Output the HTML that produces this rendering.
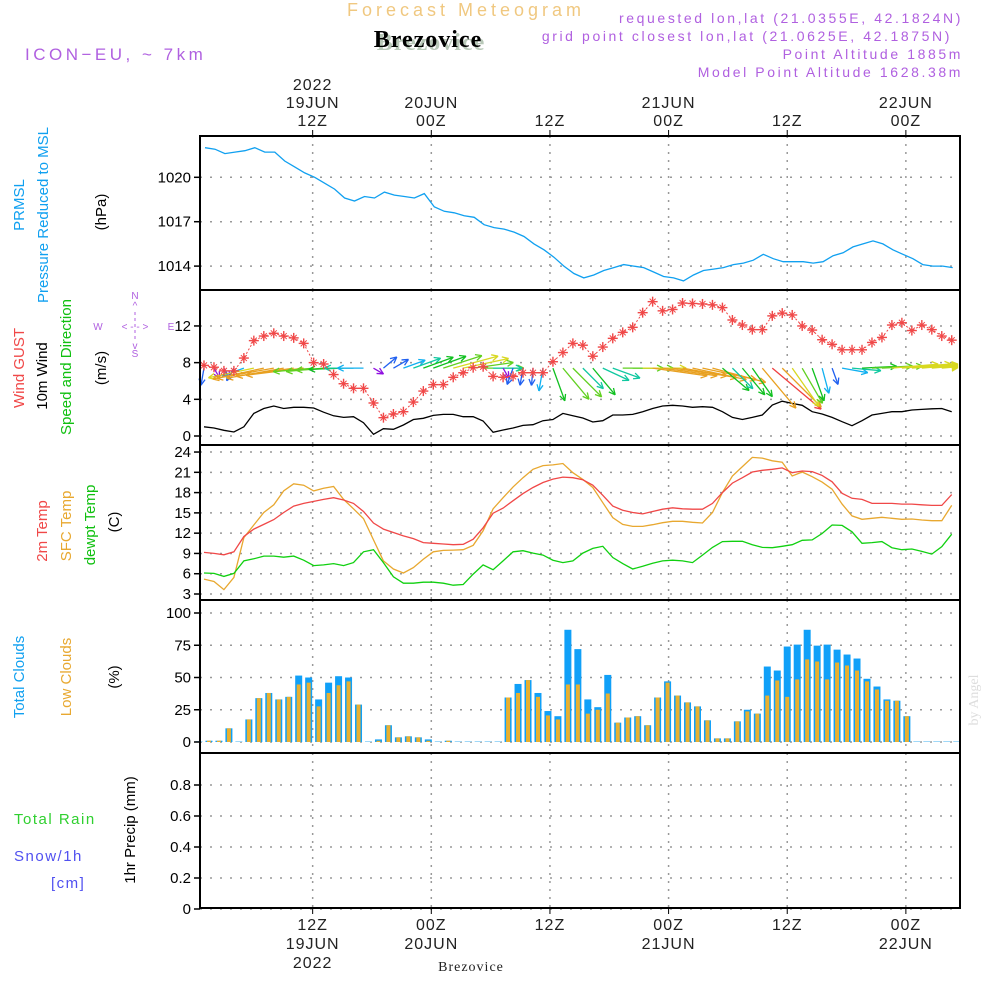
<!DOCTYPE html>
<html><head><meta charset="utf-8"><style>
html,body{margin:0;padding:0;background:#fff}
svg{display:block}
text{font-family:"Liberation Sans",sans-serif}
.serif{font-family:"Liberation Serif",serif}
</style></head><body>
<svg id="chart" width="1000" height="1000" viewBox="0 0 1000 1000" xmlns="http://www.w3.org/2000/svg">
<text x="466" y="16" font-size="18" fill="#f0c880" text-anchor="middle" letter-spacing="4">Forecast Meteogram</text>
<text x="431" y="50" font-size="24" font-weight="bold" class="serif" fill="#b8c8b8" text-anchor="middle" letter-spacing="1">Brezovice</text>
<text x="428" y="47" font-size="24" font-weight="bold" class="serif" fill="#000" text-anchor="middle" letter-spacing="1">Brezovice</text>
<text x="25" y="60" font-size="17" fill="#b060e0" letter-spacing="3.5">ICON−EU, ~ 7km</text>
<g font-size="14" fill="#b060e0" text-anchor="end" letter-spacing="2.6">
<text x="963" y="23">requested lon,lat (21.0355E, 42.1824N)</text>
<text x="952" y="41">grid point closest lon,lat (21.0625E, 42.1875N)</text>
<text x="963" y="59">Point Altitude 1885m</text>
<text x="963" y="77">Model Point Altitude 1628.38m</text>
</g>
<text x="978" y="700" font-size="14" fill="#ddd" class="serif" transform="rotate(-90 978 700)" text-anchor="middle">by Angel</text>
<g id="grid"></g>
<g id="marks"></g>
<g id="frames"></g>
<g id="labels"></g>
<g font-size="15">
<text transform="translate(24,205) rotate(-90)" text-anchor="middle" fill="#10a0f0">PRMSL</text>
<text transform="translate(48,215) rotate(-90)" text-anchor="middle" fill="#10a0f0">Pressure Reduced to MSL</text>
<text transform="translate(106,212) rotate(-90)" text-anchor="middle" fill="#000">(hPa)</text>
<text transform="translate(24,368) rotate(-90)" text-anchor="middle" fill="#f04848">Wind GUST</text>
<text transform="translate(47,376) rotate(-90)" text-anchor="middle" fill="#000">10m Wind</text>
<text transform="translate(71,367) rotate(-90)" text-anchor="middle" fill="#10c010">Speed and Direction</text>
<text transform="translate(106,368) rotate(-90)" text-anchor="middle" fill="#000">(m/s)</text>
<text transform="translate(47,531) rotate(-90)" text-anchor="middle" fill="#f04848">2m Temp</text>
<text transform="translate(71,526) rotate(-90)" text-anchor="middle" fill="#e8a830">SFC Temp</text>
<text transform="translate(95,525) rotate(-90)" text-anchor="middle" fill="#10c010">dewpt Temp</text>
<text transform="translate(119,522) rotate(-90)" text-anchor="middle" fill="#000">(C)</text>
<text transform="translate(24,677) rotate(-90)" text-anchor="middle" fill="#10a0f0">Total Clouds</text>
<text transform="translate(71,677) rotate(-90)" text-anchor="middle" fill="#e8a830">Low Clouds</text>
<text transform="translate(119,677) rotate(-90)" text-anchor="middle" fill="#000">(%)</text>
<text transform="translate(135,830) rotate(-90)" text-anchor="middle" fill="#000">1hr Precip (mm)</text>
<text x="14" y="824" fill="#30d030" letter-spacing="1.5">Total  Rain</text>
<text x="14" y="861" fill="#5050f0" letter-spacing="1.5">Snow/1h</text>
<text x="51" y="888" fill="#5050f0" letter-spacing="1.5">[cm]</text>
</g>
<g fill="#b060e0" font-size="10" text-anchor="middle">
<text x="135" y="299">N</text><text x="135" y="309">^</text>
<text x="98" y="330">W</text><text x="135" y="330">&lt;  -  -  &gt;</text><text x="171" y="330">E</text>
<text x="135" y="349">v</text><text x="135" y="357">S</text>
<line x1="135" y1="312" x2="135" y2="340" stroke="#b060e0" stroke-dasharray="3,3"/>
</g>
<text x="471" y="971" font-size="14" class="serif" text-anchor="middle" fill="#222" letter-spacing="1">Brezovice</text>
</svg>
<script>
const NS='http://www.w3.org/2000/svg';
// ---- data ----
const topTickLabels=[['2022','19JUN','12Z'],['','20JUN','00Z'],['','','12Z'],['','21JUN','00Z'],['','','12Z'],['','22JUN','00Z']];
const tickHours=[11.4,23.3,35.2,47.1,59.0,70.9];
const pressure=[1022.0,1021.9,1021.6,1021.7,1021.8,1022.0,1021.7,1021.7,1021.1,1020.7,1020.3,1020.0,1019.6,1019.2,1018.6,1018.4,1018.7,1018.6,1019.0,1018.8,1018.7,1018.6,1018.9,1018.0,1017.7,1017.6,1017.4,1017.3,1016.8,1016.6,1016.5,1016.3,1016.0,1015.5,1015.1,1014.6,1014.0,1013.5,1013.2,1013.4,1013.7,1013.9,1014.1,1014.0,1013.9,1013.6,1013.3,1013.2,1013.0,1013.4,1013.7,1013.8,1013.9,1014.1,1014.2,1014.4,1014.8,1014.5,1014.3,1014.3,1014.3,1014.2,1014.3,1014.7,1014.9,1015.3,1015.5,1015.7,1015.5,1015.1,1014.8,1014.5,1014.1,1014.0,1014.0,1013.9];
const gust=[7.7,7.5,7.1,7.1,8.5,10.4,10.9,11.2,10.9,10.7,10.1,8.0,7.85,6.7,5.7,5.2,5.2,3.6,2.0,2.4,2.65,3.7,4.9,5.6,5.6,6.4,6.9,7.45,7.55,6.5,6.4,6.5,6.9,6.9,6.9,8.1,9.1,10.1,9.9,8.7,9.7,10.65,11.3,11.85,13.45,14.65,13.65,13.8,14.5,14.45,14.4,14.3,14.0,12.65,12.1,11.6,11.6,13.1,13.4,13.2,12.0,11.55,10.5,10.0,9.4,9.4,9.4,10.2,10.75,12.1,12.35,11.5,12.1,11.6,10.9,10.45];
const wind10=[1.0,0.87,0.62,0.44,1.0,2.47,3.0,3.27,3.0,3.13,3.13,3.05,2.6,2.2,2.03,2.1,1.45,0.18,0.8,0.73,1.2,1.8,1.93,2.25,2.36,2.36,2.1,2.1,1.64,0.4,0.65,0.87,1.16,1.23,1.67,1.8,2.47,2.2,1.96,1.53,1.67,2.29,2.29,2.36,2.65,3.0,3.27,3.35,3.27,3.13,3.2,3.13,2.65,2.03,1.8,2.03,2.29,3.38,3.8,3.56,3.35,2.65,2.4,2.03,1.56,1.12,1.67,2.29,2.47,2.65,2.65,2.83,2.9,2.97,3.0,2.65];
const windDir=[100,60,60,120,160,168,168,170,170,172,173,175,175,177,178,180,180,30,-40,-30,-20,-20,-20,-20,-18,-15,-12,-8,0,0,60,110,100,95,100,70,50,45,45,50,25,20,0,0,0,8,8,8,10,12,12,15,40,45,50,55,50,40,45,55,60,70,75,70,10,5,-3,-3,-3,-5,-5,-5,-5,-5,-5,-5];
const windSpd=[3,2,2,2.5,4,8,9,10,10,10,10,7,6.5,6.5,6,5,4.5,2,3,3,4,5,5.5,6,7,8,8,7,7,5,2,3,3,3,4,6,7,7,5,6,5,5,7,7,7.5,9.5,9.5,9.5,9.5,9.5,9.5,9.5,6,5,6,6,9,11,9.5,8,7,6,4.5,3,4.5,5,6,7,7,8,8.5,8.5,8.5,8.5,8.5,8.5];
const temp2m=[9.15,9.0,8.8,9.25,11.5,12.6,13.3,14.0,15.05,16.0,16.4,16.7,17.0,17.25,16.9,16.4,15.2,13.5,12.6,12.1,11.6,11.2,10.6,10.5,10.4,10.3,10.35,11.1,12.8,14.95,15.7,16.8,17.85,18.75,19.5,20.0,20.3,20.2,19.9,19.1,17.6,16.0,15.4,15.05,14.85,15.2,15.55,15.75,15.6,15.55,15.55,16.4,18.0,19.4,20.2,21.05,21.3,21.45,21.65,20.95,21.2,21.1,20.55,19.6,17.9,17.15,17.0,16.4,16.4,16.4,16.3,16.3,16.2,16.1,16.1,17.7];
const tempSfc=[5.2,4.85,3.65,5.45,11.35,13.2,15.05,16.2,18.25,19.3,19.1,18.25,18.65,18.9,17.0,15.6,14.15,11.0,7.9,6.7,6.1,6.9,8.15,9.25,9.45,9.5,9.55,10.2,12.35,15.6,17.25,18.85,20.2,21.45,22.0,22.1,22.3,20.95,19.95,18.75,16.5,14.3,13.3,13.0,13.0,13.25,13.55,13.75,13.75,13.6,13.5,15.05,18.0,20.45,21.85,23.2,23.1,22.7,22.5,20.45,21.05,20.35,19.55,18.5,16.3,14.55,14.05,14.2,14.35,14.2,14.05,14.1,13.95,13.85,13.85,16.1];
const dewpt=[6.1,6.05,5.6,6.05,7.9,8.2,8.6,8.6,8.45,8.6,8.0,7.2,7.3,7.5,7.2,7.65,9.25,9.55,7.65,5.55,4.6,4.6,4.75,4.75,4.6,4.3,4.4,5.95,7.3,6.6,7.9,9.25,9.4,9.05,8.75,8.0,7.65,7.9,9.05,9.75,10.05,8.4,7.5,6.7,7.1,7.55,7.9,8.0,7.9,7.65,8.75,9.9,10.75,10.8,10.8,10.3,9.9,9.85,10.05,10.3,10.95,11.0,11.95,13.2,13.15,12.2,10.5,10.6,10.75,9.85,9.55,9.65,9.3,8.9,10.0,11.85];
const totalClouds=[0,1,1,10.6,0,17.5,34,38,33,35,51.5,50,33,46,51,50,29,0,2,13,3.6,4.4,3.6,2,0,1,0,0,0,0,0,34.5,45,48,38,24,20,87,72,33,27,52,15,19,20,13,34.5,47,36,30.7,27.6,16.8,2.8,2.8,16,25,22,58.5,55.4,74,75.5,87,74.7,75.5,71.6,67.8,64.7,49,43,33,32,20,0,0,0,0,0];
const lowClouds=[0,1,1,10.6,0,17.5,34,38,33,35,44.6,46,27.6,38,44,47,29,0,1,13,3.6,4.4,3.6,1,0,1,0,0,0,0,0,34.5,38,48,35,20.6,17.5,44.6,44.6,22,25,37.6,15,19,20,13,34.5,46,36,30.7,27.6,16.8,2.8,2.8,16,23.7,22,36,47.7,35,48.5,64,62.4,48.5,61.6,59.3,55.4,47,40.7,32,32,20,0,0,0,0,0];
const precip=[];
const pTicks=[1014,1017,1020], wTicks=[0,4,8,12], tTicks=[3,6,9,12,15,18,21,24], cTicks=[0,25,50,75,100], rTicks=[0,0.2,0.4,0.6,0.8];
// ---- scales ----
const X0=200,X1=960;
const xh=h=>199+9.97*h;
const yP=v=>177.3-(v-1020)*14.8;
const yW=v=>436-v*9.17;
const yT=v=>594-(v-3)*6.76;
const yC=v=>742-v*1.29;
const yR=v=>909-v*155;
const panels=[[136,290],[290,445],[445,600],[600,753],[753,908]];
function mk(tag,attrs,parent){const e=document.createElementNS(NS,tag);for(const k in attrs)e.setAttribute(k,attrs[k]);parent.appendChild(e);return e;}
const grid=document.getElementById('grid'),marks=document.getElementById('marks'),frames=document.getElementById('frames'),labels=document.getElementById('labels');
tickHours.forEach(h=>{panels.forEach(p=>{const l=mk('line',{x1:xh(h),x2:xh(h),y1:p[0],y2:p[1],stroke:'#999','stroke-dasharray':'2,6','stroke-width':1.5},grid);

});});
function hgrid(ticks,ys,fmt,name){ticks.forEach(t=>{const y=ys(t);const l=mk('line',{x1:X0,x2:X1,y1:y,y2:y,stroke:'#999','stroke-dasharray':'2,8','stroke-width':1.5},grid);


mk('line',{x1:194,x2:X0,y1:y,y2:y,stroke:'#000','stroke-width':1.5},frames);
const tx=mk('text',{x:191,y:y+5,'font-size':15,'text-anchor':'end',fill:'#000'},labels);tx.textContent=fmt(t);

});}
hgrid(pTicks,yP,String,'pressure');hgrid(wTicks,yW,String,'wind');hgrid(tTicks,yT,String,'temp');hgrid(cTicks,yC,String,'cloud');hgrid(rTicks,yR,v=>v===0?'0':v.toFixed(1),'precip');
function line(arr,xs,ys,color,name,w){const d=arr.map((v,i)=>(i?'L':'M')+xs(i).toFixed(1)+','+ys(v).toFixed(1)).join('');const p=mk('path',{d:d,fill:'none',stroke:color,'stroke-width':w||1.3},marks);

return p;}
const xl=i=>xh(i+0.5);
line(pressure,i=>xh(i+0.6),yP,'#10a0f0','pressure-line');
line(wind10,xl,yW,'#000','wind10m-line');
function spdColor(s){if(s<2.5)return '#9010e0';if(s<3.5)return '#2060f0';if(s<4.7)return '#10b0f0';if(s<5.5)return '#10c8a0';if(s<6.5)return '#10c020';if(s<7.5)return '#60d020';if(s<8.7)return '#d8d820';if(s<10.5)return '#e8a020';return '#f04040';}
windDir.forEach((dg,i)=>{const s=windSpd[i];const a=dg*Math.PI/180;const L=s*5.8;const x1=xl(i),y1=yW(7.4);let x2=x1+L*Math.cos(a),y2=y1+L*Math.sin(a);if(x2>X1-2){const f=(X1-2-x1)/(x2-x1);x2=x1+(x2-x1)*f;y2=y1+(y2-y1)*f;}const c=spdColor(s);
const g=mk('g',{stroke:c,'stroke-width':1.3,fill:'none'},marks);


mk('line',{x1:x1,y1:y1,x2:x2,y2:y2},g);
[a+Math.PI-0.45,a+Math.PI+0.45].forEach(b=>mk('line',{x1:x2,y1:y2,x2:x2+7*Math.cos(b),y2:y2+7*Math.sin(b)},g));});
line(gust,xl,yW,'#f04848','gust-line',1).setAttribute('stroke-dasharray','2,2');
gust.forEach((v,i)=>{const x=xl(i),y=yW(v);const g=mk('g',{stroke:'#f04848','stroke-width':1.4},marks);


mk('line',{x1:x-5,x2:x+5,y1:y,y2:y},g);mk('line',{x1:x,x2:x,y1:y-5,y2:y+5},g);mk('line',{x1:x-3,x2:x+3,y1:y-3,y2:y+3,'stroke-width':1},g);mk('line',{x1:x-3,x2:x+3,y1:y+3,y2:y-3,'stroke-width':1},g);});
line(tempSfc,xl,yT,'#e8a830','sfc-temp-line');
line(temp2m,xl,yT,'#f04848','temp2m-line');
line(dewpt,xl,yT,'#10d010','dewpt-line');
totalClouds.forEach((v,k)=>{const x=xh(k);const h=Math.max(v*1.29,1);const r=mk('rect',{x:x-3.5,y:yC(0)-h,width:7,height:h,fill:v>0?'#10a0f8':'#a0d8f8'},marks);


const lv=lowClouds[k];if(lv>0){const r2=mk('rect',{x:x-2,y:yC(lv),width:4,height:lv*1.29,fill:'#e8b030'},marks);

}});
const pb=mk('line',{x1:X0,x2:X1,y1:yR(0)-1,y2:yR(0)-1,stroke:'#000','stroke-dasharray':'4,2','stroke-width':1.5},marks);


panels.forEach((p,i)=>{const r=mk('rect',{x:X0,y:p[0],width:X1-X0,height:p[1]-p[0],fill:'none',stroke:'#000','stroke-width':2},frames);

});
tickHours.forEach((h,j)=>{const x=xh(h);mk('line',{x1:x,x2:x,y1:130,y2:136,stroke:'#000'},frames);mk('line',{x1:x,x2:x,y1:908,y2:914,stroke:'#000'},frames);
const tl=topTickLabels[j];[90,108,126].forEach((y,r)=>{if(tl[r]){const t=mk('text',{x:x,y:y,'font-size':16,'text-anchor':'middle',fill:'#222','letter-spacing':'1'},labels);t.textContent=tl[r];

}});
[tl[2],tl[1],tl[0]].forEach((s,r)=>{if(s){const t=mk('text',{x:x,y:930+r*19,'font-size':16,'text-anchor':'middle',fill:'#222','letter-spacing':'1'},labels);t.textContent=s;

}});});
</script>
</body></html>
